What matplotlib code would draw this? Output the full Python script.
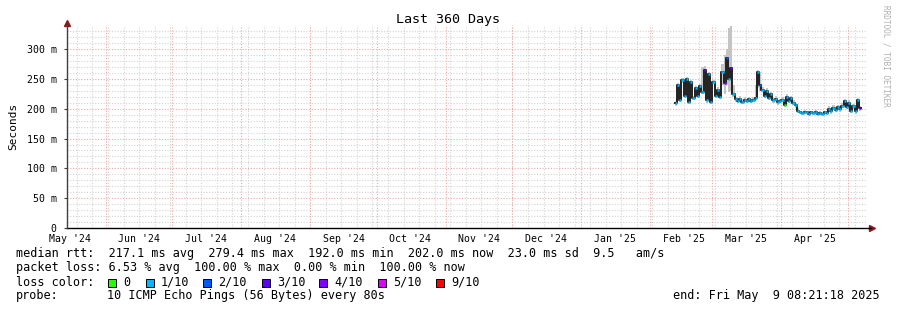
#!/usr/bin/env python3
"""
Smokeping style 'Last 360 Days' latency graph, redrawn with matplotlib
"""
import matplotlib
matplotlib.use('Agg')
import matplotlib.pyplot as plt
import matplotlib.patches as patches
import numpy as np
import pandas as pd

W, H = 897, 310

# time window of the graph
start = pd.Timestamp('2024-05-14 08:21:18')
end = pd.Timestamp('2025-05-09 08:21:18')

# daily samples from 2025-02-12 (median rtt in ms)
median = [209, 240, 215, 248, 222, 250, 212, 245, 218, 235,
          222, 238, 228, 265, 214, 258, 212, 245, 222, 232,
          220, 262, 243, 285, 250, 268, 224, 216, 213, 217,
          212, 215, 213, 216, 213, 215, 218, 262, 240, 232,
          222, 230, 218, 224, 214, 217, 211, 213, 215, 207,
          220, 213, 218, 210, 206, 197, 194, 193, 195, 194,
          192, 194, 193, 195, 192, 193, 192, 194, 193, 200,
          196, 202, 198, 203, 199, 205, 213, 203, 210, 197,
          204, 196, 214, 201]
# smoke envelope (ms)
smoke_hi = [213, 244, 220, 252, 226, 254, 216, 249, 222, 239,
            226, 242, 270, 272, 218, 262, 216, 249, 226, 236,
            224, 275, 290, 300, 335, 338, 240, 220, 217, 221,
            216, 219, 217, 220, 217, 219, 240, 265, 262, 236,
            226, 234, 222, 228, 218, 221, 215, 217, 219, 211,
            224, 217, 222, 214, 210, 201, 197, 196, 198, 197,
            195, 197, 196, 198, 195, 196, 195, 197, 196, 204,
            200, 206, 202, 207, 203, 209, 217, 207, 214, 201,
            208, 200, 218, 205]
smoke_lo = [205, 236, 211, 244, 218, 246, 208, 241, 214, 231,
            218, 234, 224, 240, 210, 254, 208, 241, 218, 228,
            216, 240, 225, 240, 228, 230, 220, 212, 209, 213,
            208, 211, 209, 212, 209, 211, 214, 235, 230, 228,
            218, 226, 214, 220, 210, 213, 207, 209, 211, 203,
            216, 209, 214, 206, 202, 193, 191, 190, 192, 191,
            189, 191, 190, 192, 189, 190, 189, 191, 190, 196,
            192, 198, 194, 199, 195, 201, 209, 199, 206, 193,
            200, 192, 210, 197]
# lost pings out of 10 for each sample
loss = [1, 1, 1, 1, 1, 1, 1, 1, 1, 1,
        1, 1, 1, 3, 1, 1, 1, 1, 1, 1,
        1, 1, 4, 2, 1, 3, 1, 1, 1, 1,
        1, 1, 1, 1, 1, 1, 1, 1, 2, 1,
        1, 1, 1, 1, 1, 1, 1, 1, 1, 0,
        1, 1, 1, 1, 1, 1, 1, 1, 1, 1,
        1, 1, 1, 1, 1, 1, 1, 1, 1, 1,
        1, 1, 1, 1, 1, 1, 1, 1, 1, 1,
        1, 1, 1, 3]

LOSS_COLORS = {0: '#26ff00', 1: '#00b8ff', 2: '#0059ff', 3: '#5e00ff',
               4: '#7e00ff', 5: '#dd00ff', 9: '#ff0000'}
LOSS_LABELS = ['0', '1/10', '2/10', '3/10', '4/10', '5/10', '9/10']
LOSS_KEYS = [0, 1, 2, 3, 4, 5, 9]

y_ticks = [0, 50, 100, 150, 200, 250, 300]
y_tick_labels = ['0', '50 m', '100 m', '150 m', '200 m', '250 m', '300 m']
month_labels = ["May '24", "Jun '24", "Jul '24", "Aug '24", "Sep '24", "Oct '24",
                "Nov '24", "Dec '24", "Jan '25", "Feb '25", "Mar '25", "Apr '25"]

MONO = 'DejaVu Sans Mono'
plt.rcParams['font.family'] = MONO

dates = pd.date_range('2025-02-12', periods=len(median), freq='D')
med = np.array(median, dtype=float)


def tnum(t):
    """days since graph start"""
    return (pd.Timestamp(t) - start).total_seconds() / 86400.0


x = np.array([tnum(d) for d in dates])
span = tnum(end)

fig = plt.figure(figsize=(W / 100, H / 100), dpi=100)
fig.patch.set_facecolor('white')
ax = fig.add_axes([66.5 / W, (H - 228) / H, 800 / W, 203 / H])
ax.set_xlim(0, span)
ax.set_ylim(0, 340.5)
for s in ax.spines.values():
    s.set_visible(False)

# grid: weekly (sundays) + monthly, 10 ms + 50 ms
for d in pd.date_range('2024-05-19', end, freq='7D'):
    ax.axvline(tnum(d), color='#d4d4d4', lw=0.8, ls=(0, (1, 1.5)), zorder=0)
for v in range(10, 340, 10):
    if v % 50:
        ax.axhline(v, color='#d4d4d4', lw=0.8, ls=(0, (1, 1.5)), zorder=0)
months = pd.date_range('2024-06-01', end, freq='MS')
for d in months:
    ax.axvline(tnum(d), color='#f0a8a8', lw=0.8, ls=(0, (1, 1.5)), zorder=0.5)
for v in y_ticks[1:]:
    ax.axhline(v, color='#f0a8a8', lw=0.8, ls=(0, (1, 1.5)), zorder=0.5)

# smoke
xe = np.append(x, x[-1] + 1)
ax.fill_between(xe, np.append(smoke_lo, smoke_lo[-1]), np.append(smoke_hi, smoke_hi[-1]),
                step='post', color='#c4c4c4', lw=0, zorder=2)
# median line
ax.step(xe, np.append(med, med[-1]), where='post', color='#202020', lw=1.4, zorder=3)
for xi, m, l in zip(x, med, loss):
    ax.hlines(m, xi, xi + 1, color=LOSS_COLORS[l], lw=1.8, zorder=4)

# axes lines with arrows
ax.plot([0, 1.006], [0, 0], color='black', lw=1, transform=ax.transAxes, clip_on=False, zorder=5)
ax.plot([0, 0], [0, 1.0], color='#404040', lw=1, transform=ax.transAxes, clip_on=False, zorder=5)
ax.plot([1.007], [0], marker='>', ms=4, color='#8b1a1a', transform=ax.transAxes, clip_on=False)
ax.plot([0], [1.012], marker='^', ms=4, color='#8b1a1a', transform=ax.transAxes, clip_on=False)

# ticks and labels
ax.set_yticks(y_ticks)
ax.set_yticklabels(y_tick_labels, fontsize=7.1)
ax.tick_params(axis='y', length=2, width=0.8, color='#404040', pad=5)
mids = [tnum(pd.Timestamp('2024-05-01') + pd.DateOffset(months=i) + pd.Timedelta(days=15))
        for i in range(len(month_labels))]
ax.set_xticks(mids)
ax.set_xticklabels(month_labels, fontsize=7.1)
ax.tick_params(axis='x', length=0, pad=4)
ax.set_ylabel('Seconds', fontsize=8, labelpad=6)

fig.text(448 / W, 1 - 19 / H, 'Last 360 Days', ha='center', va='center', fontsize=9.6)
fig.text(886 / W, 1 - 5 / H, 'RRDTOOL / TOBI OETIKER', ha='center', va='top',
         rotation=270, fontsize=5.6, color='#b0b0b0')

# legend rows
fs = 8.5
fig.text(16 / W, 1 - 254 / H,
         'median rtt:  217.1 ms avg  279.4 ms max  192.0 ms min  202.0 ms now  23.0 ms sd  9.5   am/s',
         va='center', fontsize=fs)
fig.text(16 / W, 1 - 268 / H,
         'packet loss: 6.53 % avg  100.00 % max  0.00 % min  100.00 % now',
         va='center', fontsize=fs)
fig.text(16 / W, 1 - 282 / H, 'loss color:', va='center', fontsize=fs)
box_x = [108, 146, 203, 262, 319, 378, 436]
for bx, key, lab in zip(box_x, LOSS_KEYS, LOSS_LABELS):
    fig.add_artist(patches.Rectangle((bx / W, 1 - 286.5 / H), 8 / W, 8 / H,
                                     facecolor=LOSS_COLORS[key], edgecolor='black', lw=0.7,
                                     transform=fig.transFigure))
    fig.text((bx + 15) / W, 1 - 282 / H, lab, va='center', fontsize=fs)
fig.text(16 / W, 1 - 296 / H, 'probe:', va='center', fontsize=fs)
fig.text(107 / W, 1 - 296 / H, '10 ICMP Echo Pings (56 Bytes) every 80s', va='center', fontsize=fs)
fig.text(880 / W, 1 - 296 / H, 'end: Fri May  9 08:21:18 2025', ha='right', va='center', fontsize=fs)

fig.savefig('out.png', dpi=100, facecolor='white')
